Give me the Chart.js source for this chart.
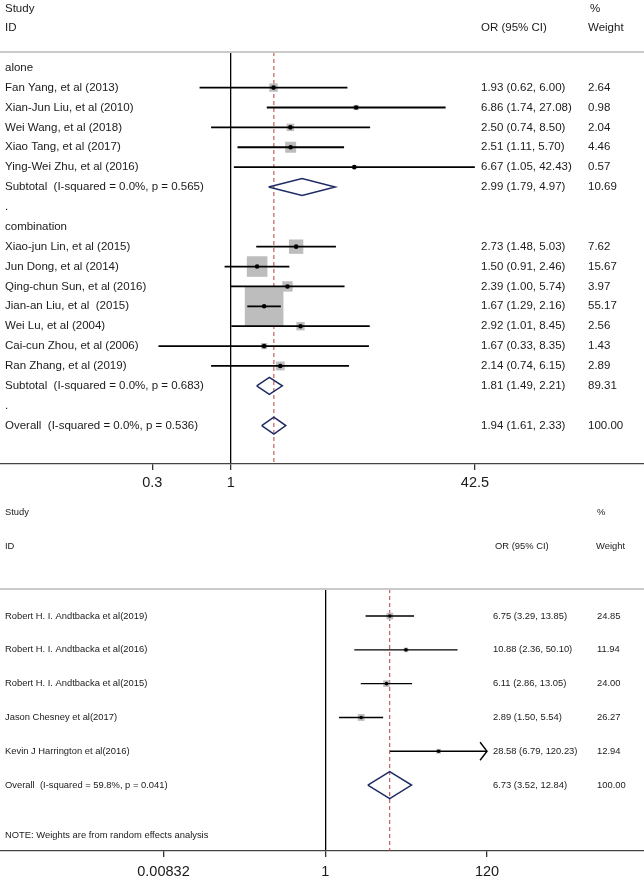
<!DOCTYPE html>
<html>
<head>
<meta charset="utf-8">
<script src="https://cdn.jsdelivr.net/npm/chart.js@4.4.0/dist/chart.umd.min.js"></script>
<style>
  html, body { margin: 0; padding: 0; background: #fff; }
  #wrap { position: relative; width: 644px; height: 882px; }
  canvas { position: absolute; left: 0; }
</style>
</head>
<body>
<div id="wrap">
  <canvas id="topChart" width="644" height="500" style="top:0"></canvas>
  <canvas id="bottomChart" width="644" height="382" style="top:500px"></canvas>
</div>
<script>
const FONT = "'Liberation Sans', Arial, Helvetica, sans-serif";

// Panel 1: subgroup meta-analysis (alone / combination)
const topLabels = [
    'alone',
    'Fan Yang, et al (2013)',
    'Xian-Jun Liu, et al (2010)',
    'Wei Wang, et al (2018)',
    'Xiao Tang, et al (2017)',
    'Ying-Wei Zhu, et al (2016)',
    'Subtotal  (I-squared = 0.0%, p = 0.565)',
    '.',
    'combination',
    'Xiao-jun Lin, et al (2015)',
    'Jun Dong, et al (2014)',
    'Qing-chun Sun, et al (2016)',
    'Jian-an Liu, et al  (2015)',
    'Wei Lu, et al (2004)',
    'Cai-cun Zhou, et al (2006)',
    'Ran Zhang, et al (2019)',
    'Subtotal  (I-squared = 0.0%, p = 0.683)',
    '.',
    'Overall  (I-squared = 0.0%, p = 0.536)'
];
const topOR     = [null, 1.93, 6.86, 2.50, 2.51, 6.67, 2.99, null, null, 2.73, 1.50, 2.39, 1.67, 2.92, 1.67, 2.14, 1.81, null, 1.94];
const topLo     = [null, 0.62, 1.74, 0.74, 1.11, 1.05, 1.79, null, null, 1.48, 0.91, 1.00, 1.29, 1.01, 0.33, 0.74, 1.49, null, 1.61];
const topHi     = [null, 6.00, 27.08, 8.50, 5.70, 42.43, 4.97, null, null, 5.03, 2.46, 5.74, 2.16, 8.45, 8.35, 6.15, 2.21, null, 2.33];
const topWeight = [null, 2.64, 0.98, 2.04, 4.46, 0.57, 10.69, null, null, 7.62, 15.67, 3.97, 55.17, 2.56, 1.43, 2.89, 89.31, null, 100.00];
const topPooled = [0, 0, 0, 0, 0, 0, 1, 0, 0, 0, 0, 0, 0, 0, 0, 0, 1, 0, 1];
const topTicks  = [0.3, 1, 42.5];

// Panel 2: random effects meta-analysis
const bottomLabels = [
    'Robert H. I. Andtbacka et al(2019)',
    'Robert H. I. Andtbacka et al(2016)',
    'Robert H. I. Andtbacka et al(2015)',
    'Jason Chesney et al(2017)',
    'Kevin J Harrington et al(2016)',
    'Overall  (I-squared = 59.8%, p = 0.041)'
];
const bottomOR     = [6.75, 10.88, 6.11, 2.89, 28.58, 6.73];
const bottomLo     = [3.29, 2.36, 2.86, 1.50, 6.79, 3.52];
const bottomHi     = [13.85, 50.10, 13.05, 5.54, 120.23, 12.84];
const bottomWeight = [24.85, 11.94, 24.00, 26.27, 12.94, 100.00];
const bottomPooled = [0, 0, 0, 0, 0, 1];
const bottomTicks  = [0.00832, 1, 120];
const bottomNote   = 'NOTE: Weights are from random effects analysis';

const fmt = v => v.toFixed(2);

function forestChart(id, d, lay) {
    const rows = d.labels.map((_, i) => i);
    const tickMin = d.ticks[0];
    const tickMax = d.ticks[d.ticks.length - 1];
    const studies = rows.filter(i => d.or[i] !== null && !d.pooled[i]);
    const pooled = rows.filter(i => d.pooled[i]);
    const overall = d.or[pooled[pooled.length - 1]];
    const datasets = [];

    // dashed line at the overall estimate
    datasets.push({
        data: [{ x: overall, y: lay.yMin }, { x: overall, y: lay.yMax }],
        showLine: true, borderColor: '#b0413a', borderWidth: 1, borderDash: [4, 3],
        pointRadius: 0, order: 6
    });
    // confidence intervals (cut at the axis range)
    studies.forEach(i => {
        datasets.push({
            data: [{ x: Math.max(d.lo[i], tickMin), y: i }, { x: Math.min(d.hi[i], tickMax), y: i }],
            showLine: true, borderColor: '#000', borderWidth: lay.ciWidth,
            pointRadius: 0, order: 2
        });
    });
    // weight boxes
    datasets.push({
        data: studies.map(i => ({ x: d.or[i], y: i })),
        pointStyle: 'rect',
        pointRadius: studies.map(i => lay.boxScale * Math.sqrt(d.weight[i]) / Math.SQRT2),
        backgroundColor: '#bdbdbd', borderWidth: 0, order: 4
    });
    // point estimates
    datasets.push({
        data: studies.map(i => ({ x: d.or[i], y: i })),
        pointStyle: 'circle', pointRadius: lay.dot,
        backgroundColor: '#000', borderWidth: 0, order: 1
    });
    // pooled diamonds
    pooled.forEach(i => {
        datasets.push({
            data: [
                { x: d.lo[i], y: i }, { x: d.or[i], y: i - lay.dh },
                { x: d.hi[i], y: i }, { x: d.or[i], y: i + lay.dh },
                { x: d.lo[i], y: i }
            ],
            showLine: true, borderColor: '#1f2b63', borderWidth: 1.5,
            pointRadius: 0, order: 1
        });
    });

    const textPlugin = {
        id: 'forestText',
        afterDraw(chart) {
            const { ctx, chartArea, scales: { x, y } } = chart;
            ctx.save();
            ctx.strokeStyle = '#cacaca';
            ctx.lineWidth = 2;
            ctx.beginPath();
            ctx.moveTo(0, chartArea.top);
            ctx.lineTo(chart.width, chartArea.top);
            ctx.stroke();

            ctx.fillStyle = '#1a1a1a';
            ctx.font = lay.fontSize + 'px ' + FONT;
            ctx.textBaseline = 'middle';
            ctx.textAlign = 'left';
            ctx.fillText('Study', lay.labelX, lay.head1);
            ctx.fillText('ID', lay.labelX, lay.head2);
            ctx.fillText('%', lay.pctX, lay.head1);
            ctx.fillText('OR (95% CI)', lay.orHeadX, lay.head2);
            ctx.fillText('Weight', lay.wHeadX, lay.head2);

            rows.forEach(i => {
                const py = y.getPixelForValue(i);
                ctx.fillText(d.labels[i], lay.labelX, py);
                if (d.or[i] !== null) {
                    ctx.fillText(fmt(d.or[i]) + ' (' + fmt(d.lo[i]) + ', ' + fmt(d.hi[i]) + ')', lay.orX, py);
                    ctx.fillText(fmt(d.weight[i]), lay.wX, py);
                }
            });
            if (d.note) ctx.fillText(d.note, lay.labelX, y.getPixelForValue(lay.noteRow));

            // arrow heads where the interval runs past the axis
            ctx.strokeStyle = '#000';
            ctx.lineWidth = lay.ciWidth;
            studies.forEach(i => {
                if (d.hi[i] <= tickMax) return;
                const px = x.getPixelForValue(tickMax);
                const py = y.getPixelForValue(i);
                ctx.beginPath();
                ctx.moveTo(px - 7, py - 9);
                ctx.lineTo(px, py);
                ctx.lineTo(px - 7, py + 9);
                ctx.stroke();
            });
            ctx.restore();
        }
    };

    return new Chart(document.getElementById(id), {
        type: 'scatter',
        data: { datasets: datasets },
        options: {
            responsive: false,
            animation: false,
            events: [],
            devicePixelRatio: 1,
            layout: { autoPadding: false, padding: { top: lay.areaTop, left: 0, right: 0, bottom: 0 } },
            plugins: { legend: { display: false }, tooltip: { enabled: false } },
            scales: {
                x: {
                    type: 'logarithmic',
                    min: lay.xMin,
                    max: lay.xMax,
                    bounds: 'data',
                    afterBuildTicks: s => { s.ticks = d.ticks.map(v => ({ value: v })); },
                    afterFit: s => { s.height = lay.axisH; },
                    ticks: {
                        autoSkip: false, maxRotation: 0, padding: lay.tickPad,
                        color: '#1a1a1a', font: { family: FONT, size: 14.5 },
                        callback: (v, i) => String(d.ticks[i])
                    },
                    grid: {
                        color: c => (c.tick && c.tick.value === 1 ? '#000' : 'rgba(0,0,0,0)'),
                        lineWidth: 1.3,
                        tickColor: '#333',
                        tickLength: 6
                    },
                    border: { display: true, color: '#444', width: 1.2 }
                },
                y: {
                    type: 'linear', display: false, reverse: true,
                    min: lay.yMin, max: lay.yMax
                }
            }
        },
        plugins: [textPlugin]
    });
}

forestChart('topChart', {
    labels: topLabels, or: topOR, lo: topLo, hi: topHi,
    weight: topWeight, pooled: topPooled, ticks: topTicks
}, {
    areaTop: 52, axisH: 36, tickPad: 4,
    xMin: Math.pow(10, -230.7 / 150), xMax: Math.pow(10, 413.3 / 150),
    yMin: -0.79, yMax: 19.93,
    fontSize: 11.5, labelX: 5, orX: 481, wX: 588, pctX: 590, orHeadX: 481, wHeadX: 588,
    head1: 8.5, head2: 28,
    ciWidth: 1.8, boxScale: 5.2, dot: 2.3, dh: 0.43
});

forestChart('bottomChart', {
    labels: bottomLabels, or: bottomOR, lo: bottomLo, hi: bottomHi,
    weight: bottomWeight, pooled: bottomPooled, ticks: bottomTicks, note: bottomNote
}, {
    areaTop: 89, axisH: 31, tickPad: 6,
    xMin: Math.pow(10, -325.3 / 77.8), xMax: Math.pow(10, 318.7 / 77.8),
    yMin: -0.8, yMax: 6.95, noteRow: 6.5,
    fontSize: 9.4, labelX: 5, orX: 493, wX: 597, pctX: 597, orHeadX: 495, wHeadX: 596,
    head1: 12.7, head2: 46.7,
    ciWidth: 1.4, boxScale: 1.33, dot: 1.8, dh: 0.4
});
</script>
</body>
</html>
